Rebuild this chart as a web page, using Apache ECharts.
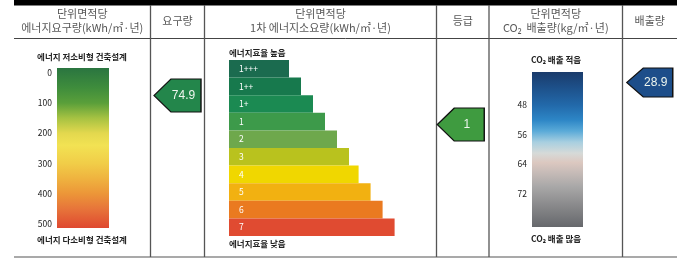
<!DOCTYPE html>
<html><head><meta charset="utf-8">
<script src="https://cdn.jsdelivr.net/npm/echarts@6/dist/echarts.min.js"></script>
<style>html,body{margin:0;padding:0;background:#fff}#c{width:686px;height:260px}</style>
</head><body><div id="c"></div>
<script>
// ---- data ----
const headerTexts = ['단위면적당\n에너지요구량(kWh/㎡·년)', '요구량', '단위면적당\n1차 에너지소요량(kWh/㎡·년)', '등급', '단위면적당\nCO₂  배출량(kg/㎡·년)', '배출량'];
const demandTicks = [0, 100, 200, 300, 400, 500];
const demandRange = [-16, 514];
const demandValue = 74.9;
const demandTopLabel = '에너지 저소비형 건축설계';
const demandBottomLabel = '에너지 다소비형 건축설계';
const gradeCategories = ['1+++', '1++', '1+', '1', '2', '3', '4', '5', '6', '7'];
const gradeLengths = [5, 6, 7, 8, 9, 10, 10.8, 11.8, 12.8, 13.8];
const gradeTopLabel = '에너지효율 높음';
const gradeBottomLabel = '에너지효율 낮음';
const currentGrade = '1';
const co2Ticks = [48, 56, 64, 72];
const co2Range = [39, 81];
const co2Value = 28.9;
const co2TopLabel = 'CO₂ 배출 적음';
const co2BottomLabel = 'CO₂ 배출 많음';

// ---- styles ----
const FONT = '"Noto Sans CJK KR", "Noto Sans", sans-serif';
const gradeColors = ['#1b6b4f', '#17794d', '#1b8a52', '#3d9a4a', '#6ea84c', '#b9c21e', '#f0d700', '#f2b111', '#ea7a20', '#e04b31'];
const demandStops = [[-16, '#2a7540'], [50, '#3f8d3c'], [100, '#5a9f3a'], [150, '#a6c242'], [200, '#e3d84e'], [240, '#f2e253'], [300, '#f1cd48'], [350, '#efb33f'], [400, '#ec9638'], [450, '#e7753a'], [514, '#df4830']];
const co2Stops = [[39, '#1a3b6b'], [43, '#1d4f88'], [48, '#2269aa'], [52, '#2d86c6'], [55, '#5aaad8'], [58, '#a8cfe0'], [61, '#d6dad8'], [63.5, '#dcc8c0'], [66, '#c8bcb8'], [70, '#a9a8a8'], [75, '#8a8a8c'], [81, '#66686c']];
const ARROW = 'path://M0,16.5L17,0L47,0L47,33L17,33Z';

function grad(stops, range) {
  return new echarts.graphic.LinearGradient(0, 0, 0, 1, stops.map(s => ({
    offset: Math.min(1, Math.max(0, (s[0] - range[0]) / (range[1] - range[0]))), color: s[1]
  })));
}
function scaleBar(stops, range) {
  return function (params, api) {
    const a = api.coord([api.value(0), api.value(1)]);
    const b = api.coord([api.value(0), api.value(2)]);
    const w = api.size([1, 0])[0];
    return { type: 'rect', shape: { x: a[0] - w / 2, y: a[1], width: w, height: b[1] - a[1] }, style: { fill: grad(stops, range) } };
  };
}

const colX = [14, 150.5, 204.5, 436.5, 489, 622.5, 677];
const graphics = [
  { type: 'rect', shape: { x: 14, y: 0, width: 663, height: 5.5 }, style: { fill: '#000' } },
  { type: 'line', shape: { x1: 14, y1: 38.5, x2: 677, y2: 38.5 }, style: { stroke: '#444', lineWidth: 1 } },
  { type: 'line', shape: { x1: 14, y1: 257, x2: 677, y2: 257 }, style: { stroke: '#555', lineWidth: 1.2 } }
];
for (let i = 1; i < 6; i++) {
  graphics.push({ type: 'line', shape: { x1: colX[i], y1: 5, x2: colX[i], y2: 257 }, style: { stroke: '#555', lineWidth: 1.3 } });
}
headerTexts.forEach((t, i) => {
  const cx = (colX[i] + colX[i + 1]) / 2;
  graphics.push({ type: 'text', x: cx, y: 21, style: { text: t, fill: '#585858', font: '11px ' + FONT, align: 'center', verticalAlign: 'middle', textAlign: 'center', textVerticalAlign: 'middle', lineHeight: 14 } });
});
function small(t, x, y, al) {
  graphics.push({ type: 'text', x: x, y: y, style: { text: t, fill: '#222', font: 'bold 8.5px ' + FONT, align: al, verticalAlign: 'middle', textAlign: al, textVerticalAlign: 'middle' } });
}
small(demandTopLabel, 82, 57, 'center');
small(demandBottomLabel, 82, 240, 'center');
small(gradeTopLabel, 229, 53, 'left');
small(gradeBottomLabel, 229, 244, 'left');
small(co2TopLabel, 556, 60, 'center');
small(co2BottomLabel, 556, 239, 'center');

const hiddenVal = (g, min, max) => ({ type: 'value', gridIndex: g, min: min, max: max, show: false });
const arrowLabel = (txt, off) => ({ show: true, position: 'inside', offset: off, formatter: () => txt, color: '#eef6ee', fontSize: 12, fontFamily: 'Arial, "Liberation Sans", sans-serif' });

const option = {
  animation: false,
  backgroundColor: '#fff',
  textStyle: { fontFamily: FONT },
  graphic: { elements: graphics },
  grid: [
    { left: 57, top: 68, width: 52, height: 160 },
    { left: 150.5, top: 68, width: 54, height: 160 },
    { left: 229, top: 60, width: 192, height: 176 },
    { left: 436.5, top: 60, width: 52.5, height: 176 },
    { left: 532, top: 72, width: 51, height: 155 },
    { left: 622.5, top: 68, width: 54.5, height: 29 }
  ],
  xAxis: [
    { type: 'category', gridIndex: 0, data: ['demand'], show: false },
    hiddenVal(1, 0, 1),
    hiddenVal(2, 0, 16),
    hiddenVal(3, 0, 1),
    { type: 'category', gridIndex: 4, data: ['co2'], show: false },
    hiddenVal(5, 0, 1)
  ],
  yAxis: [
    { type: 'value', gridIndex: 0, inverse: true, min: demandRange[0], max: demandRange[1],
      axisLine: { show: false }, axisTick: { show: false }, splitLine: { show: false },
      axisLabel: { customValues: demandTicks, fontSize: 8.5, color: '#222', margin: 5, fontFamily: FONT } },
    { type: 'value', gridIndex: 1, inverse: true, min: demandRange[0], max: demandRange[1], show: false },
    { type: 'category', gridIndex: 2, inverse: true, data: gradeCategories, show: false },
    { type: 'category', gridIndex: 3, inverse: true, data: gradeCategories, show: false },
    { type: 'value', gridIndex: 4, inverse: true, min: co2Range[0], max: co2Range[1],
      axisLine: { show: false }, axisTick: { show: false }, splitLine: { show: false },
      axisLabel: { customValues: co2Ticks, fontSize: 8.5, color: '#222', margin: 5, fontFamily: FONT } },
    { type: 'category', gridIndex: 5, data: ['co2value'], show: false }
  ],
  series: [
    { type: 'custom', xAxisIndex: 0, yAxisIndex: 0, encode: { x: 0, y: [1, 2] },
      data: [[0, demandRange[0], demandRange[1]]], renderItem: scaleBar(demandStops, demandRange) },
    { type: 'scatter', xAxisIndex: 1, yAxisIndex: 1, data: [[0.5, demandValue]],
      symbol: ARROW, symbolSize: [47, 33],
      itemStyle: { color: '#23864b', borderColor: '#111', borderWidth: 1.2, opacity: 1 },
      label: arrowLabel(String(demandValue), [6, 0]) },
    { type: 'bar', xAxisIndex: 2, yAxisIndex: 2, barCategoryGap: 0,
      data: gradeLengths.map((v, i) => ({ value: v, itemStyle: { color: gradeColors[i] } })),
      label: { show: true, position: 'insideLeft', distance: 10, formatter: '{b}', color: '#fff', fontSize: 8.5, fontFamily: FONT } },
    { type: 'scatter', xAxisIndex: 3, yAxisIndex: 3, data: [[0.5, currentGrade]],
      symbol: ARROW, symbolSize: [47, 33], symbolOffset: [-2, 3],
      itemStyle: { color: '#3f9b40', borderColor: '#111', borderWidth: 1.2, opacity: 1 },
      label: arrowLabel(currentGrade, [6, 0]) },
    { type: 'custom', xAxisIndex: 4, yAxisIndex: 4, encode: { x: 0, y: [1, 2] },
      data: [[0, co2Range[0], co2Range[1]]], renderItem: scaleBar(co2Stops, co2Range) },
    { type: 'scatter', xAxisIndex: 5, yAxisIndex: 5, data: [[0.5, 0]],
      symbol: ARROW, symbolSize: [46, 29],
      itemStyle: { color: '#1d4e8a', borderColor: '#111', borderWidth: 1.2, opacity: 1 },
      label: arrowLabel(String(co2Value), [6, 0]) }
  ]
};
const chart = echarts.init(document.getElementById('c'), null, { renderer: 'canvas' });
chart.setOption(option);
</script></body></html>
